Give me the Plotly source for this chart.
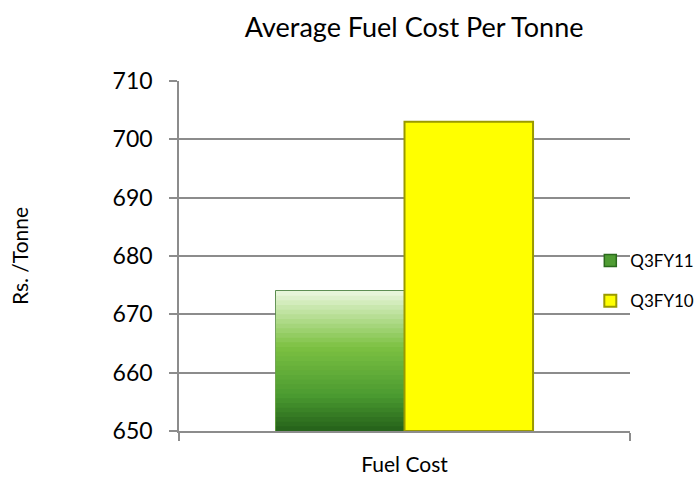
import plotly.graph_objects as go

# Quarterly average fuel cost (Rs. per tonne)
categories = ["Fuel Cost"]
series_names = ["Q3FY11", "Q3FY10"]
q3fy11_values = [674]
q3fy10_values = [703]
y_ticks = [650, 660, 670, 680, 690, 700, 710]
axis_floor = 650

FONT = "Lato, 'Open Sans', sans-serif"
GRID = "#8c8c8c"

# light-to-dark shading stops for the green bar (top -> bottom)
green_stops = [(0.0, (236, 247, 226)), (0.12, (200, 231, 172)), (0.4, (124, 193, 66)),
               (0.75, (74, 154, 48)), (1.0, (36, 96, 26))]


def shade(t):
    for (t0, c0), (t1, c1) in zip(green_stops, green_stops[1:]):
        if t0 <= t <= t1:
            f = (t - t0) / (t1 - t0)
            return "rgb({},{},{})".format(*[round(a + (b - a) * f) for a, b in zip(c0, c1)])
    return "rgb({},{},{})".format(*green_stops[-1][1])


fig = go.Figure()

# Q3FY11: base bar (legend entry) plus nested shaded layers laid over it;
# each layer runs from the floor up to its own top so no seams show
fig.add_trace(go.Bar(
    x=categories, y=[v - axis_floor for v in q3fy11_values], base=axis_floor,
    name=series_names[0], legendgroup="a", offsetgroup="a",
    marker=dict(color="#4f9c33", line=dict(color="#2a6a1c", width=1.5)),
))
n_layers = 30
for i in range(n_layers):
    t = (i + 0.5) / n_layers
    heights = [(v - axis_floor) * (1 - i / n_layers) for v in q3fy11_values]
    fig.add_trace(go.Bar(
        x=categories, y=heights, base=axis_floor, offsetgroup="a", legendgroup="a",
        showlegend=False, hoverinfo="skip",
        marker=dict(color=shade(t), line=dict(width=0)),
    ))

fig.add_trace(go.Bar(
    x=categories, y=[v - axis_floor for v in q3fy10_values], base=axis_floor,
    name=series_names[1], legendgroup="b", offsetgroup="b",
    marker=dict(color="#ffff00", line=dict(color="#9a9a00", width=2)),
))

fig.update_layout(
    width=696, height=479,
    margin=dict(l=179, r=66, t=81, b=48, autoexpand=False),
    paper_bgcolor="white", plot_bgcolor="white",
    barmode="group", bargap=0.43, bargroupgap=0,
    font=dict(family=FONT, color="#000000"),
    title=dict(text="Average Fuel Cost Per Tonne", x=0.595, xanchor="center",
               y=0.942, yanchor="middle", font=dict(size=27, family=FONT)),
    showlegend=True,
    legend=dict(x=0.912, y=0.537, xanchor="left", yanchor="top",
                bgcolor="rgba(0,0,0,0)", font=dict(size=17, family=FONT),
                tracegroupgap=15, itemwidth=30),
    xaxis=dict(showline=True, linecolor=GRID, linewidth=1.5,
               ticks="outside", tickson="boundaries", ticklen=8, tickcolor=GRID,
               tickwidth=1.5, tickfont=dict(size=21), ticklabelstandoff=14,
               automargin=False),
    yaxis=dict(range=[650, 710], tickvals=y_ticks, showgrid=True, gridcolor=GRID,
               gridwidth=1.5, showline=True, linecolor=GRID, linewidth=1.5,
               ticks="outside", ticklen=8, tickcolor=GRID, tickwidth=1.5,
               tickfont=dict(size=23), zeroline=False, automargin=False,
               ticklabelstandoff=12,
               title=dict(text="Rs. /Tonne", font=dict(size=21), standoff=78)),
)
fig.write_html("out.html")
